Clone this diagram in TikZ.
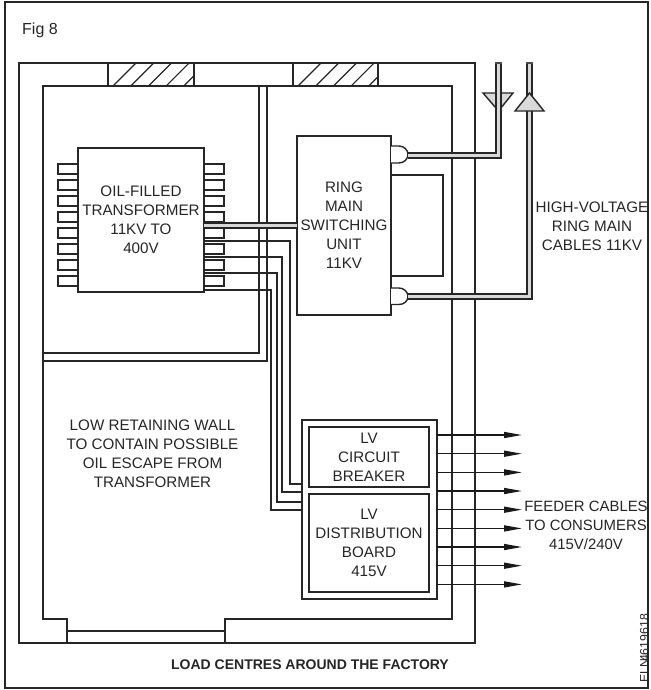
\documentclass[tikz,border=0pt]{standalone}
\usepackage{fontspec}
\setmainfont{Liberation Sans}
\usetikzlibrary{arrows.meta,calc}
\tikzset{
  x=1pt,y=-1pt,
  ln/.style={line width=1.4pt,draw=black!85},
  thin ln/.style={line width=1.2pt,draw=black!85},
  box/.style={ln,fill=white,inner sep=0pt,outer sep=0pt,align=center,font=\fontsize{15.2}{19}\selectfont,text=black!85},
  fin/.style={ln,fill=white},
  label/.style={inner sep=0pt,align=center,font=\fontsize{15.2}{19}\selectfont,text=black!85},
  cable/.style={line width=1.4pt,draw=black!85,double=black!15,double distance=3.4pt},
  feeder/.style={line width=1.4pt,draw=black!90,-{Triangle[length=18pt,width=6pt]}},
  lvcable/.style={ln,rounded corners=0pt},
}
\begin{document}
\begin{tikzpicture}
\useasboundingbox (0,0) rectangle (650,690);
\fill[white] (0,0) rectangle (650,690);
% frame
\draw[ln] (5,2) rectangle (648,688);
\node[label,anchor=west,font=\fontsize{16}{18}\selectfont] (fig) at (22,30) {Fig 8};
% outer and inner walls
\draw[ln] (19,63) rectangle (475,643);
\draw[thin ln] (67,619) -- (43,619) -- (43,86) -- (452,86) -- (452,619) -- (225,619) -- (225,643);
\draw[ln] (43,86) -- (43,619) -- (67,619) -- (67,643);
\draw[thin ln] (67,631) -- (225,631);
% hatched openings
\foreach \xa/\xb/\s in {108/194/113,293/378/298}{
  \begin{scope}
    \clip (\xa,63) rectangle (\xb,86);
    \foreach \k in {0,...,5}{
      \draw[thin ln] (\s+17.7*\k,86) -- (\s+17.7*\k+23,63);
    }
  \end{scope}
  \draw[thin ln] (\xa,63) rectangle (\xb,86);
}
% internal double wall
\draw[ln] (259,86) -- (259,353) -- (43,353);
\draw[ln] (267,86) -- (267,361) -- (43,361);
% fins
\foreach \y in {164,180,196,212,228,244,260,276}{
  \draw[fin] (58,\y) rectangle (224,\y+10);
}
% boxes
\node[box,minimum width=126pt,minimum height=144pt] (tr) at (141,220) {OIL-FILLED\\TRANSFORMER\\11KV TO\\400V};
\draw[ln] (391,175) -- (443,175) -- (443,276) -- (391,276);
\node[box,minimum width=94pt,minimum height=179pt] (rm) at (344,225.5) {RING\\MAIN\\SWITCHING\\UNIT\\11KV};
\node[box,minimum width=135pt,minimum height=179pt] (lv) at (369.5,509.5) {};
\node[box,minimum width=120pt,minimum height=60pt] (cb) at (369,457) {LV\\CIRCUIT\\BREAKER};
\node[box,minimum width=120pt,minimum height=98pt] (db) at (369,543) {LV\\DISTRIBUTION\\BOARD\\415V};
% LV cables
\draw[lvcable] (tr.east |- 0,241) -| (290,484) -- (lv.west |- 0,484);
\draw[lvcable] (tr.east |- 0,257) -| (282,492) -- (lv.west |- 0,492);
\draw[lvcable] (tr.east |- 0,273) -| (277,502) -- (lv.west |- 0,502);
\draw[lvcable] (tr.east |- 0,290) -| (271,510) -- (lv.west |- 0,510);
% transformer to ring main
\draw[cable] (tr.east |- 0,225.5) -- (rm.west |- 0,225.5);
% cable terminations
\draw[ln,fill=white] (rm.east |- 0,146) -- (399,146) .. controls (404,146) and (408,150) .. (408,154.5) .. controls (408,159) and (404,163) .. (399,163) -- (rm.east |- 0,163);
\draw[ln,fill=white] (rm.east |- 0,288) -- (399,288) .. controls (404,288) and (408,292) .. (408,296.5) .. controls (408,301) and (404,304.5) .. (399,304.5) -- (rm.east |- 0,304.5);
\coordinate (dtop) at (408,155.5);
\coordinate (dbot) at (408,296.5);
\coordinate (capa) at (498.5,63);
\coordinate (capb) at (529.5,63);
% ring main cables and arrowheads
\draw[ln,fill=black!15] (483,93) -- (513,93) -- (498.5,111) -- cycle;
\draw[cable] (dtop) -| (capa);
\draw[cable] (dbot) -| (capb);
\draw[ln,fill=black!15] (515,111) -- (544,111) -- (529.5,93) -- cycle;
\draw[line width=1.1pt,draw=black!70] ($(capa)+(-3.2,0)$) -- ($(capa)+(3.2,0)$);
\draw[line width=1.1pt,draw=black!70] ($(capb)+(-3.2,0)$) -- ($(capb)+(3.2,0)$);
% feeders
\foreach \y in {435,453.7,472.4,491,509.7,528.4,547,565.7,584.4}{
  \coordinate (f) at (522,\y);
  \draw[feeder] (lv.east |- f) -- (f);
}
% labels
\node[label] (hv) at (592,226) {HIGH-VOLTAGE\\RING MAIN\\CABLES 11KV};
\node[label,font=\fontsize{14.9}{19}\selectfont] (fc) at (586,525.5) {FEEDER CABLES\\TO CONSUMERS\\415V/240V};
\node[label] (wall) at (152.5,453.5) {LOW RETAINING WALL\\TO CONTAIN POSSIBLE\\OIL ESCAPE FROM\\TRANSFORMER};
\node[label,font=\fontsize{14}{16}\bfseries\selectfont] (title) at (310,665) {LOAD CENTRES AROUND THE FACTORY};
\node[label,rotate=90,anchor=west,font=\fontsize{12.3}{14}\selectfont] (ref) at (644.5,683) {ELN\kern-3pt 4619618};
\end{tikzpicture}
\end{document}
